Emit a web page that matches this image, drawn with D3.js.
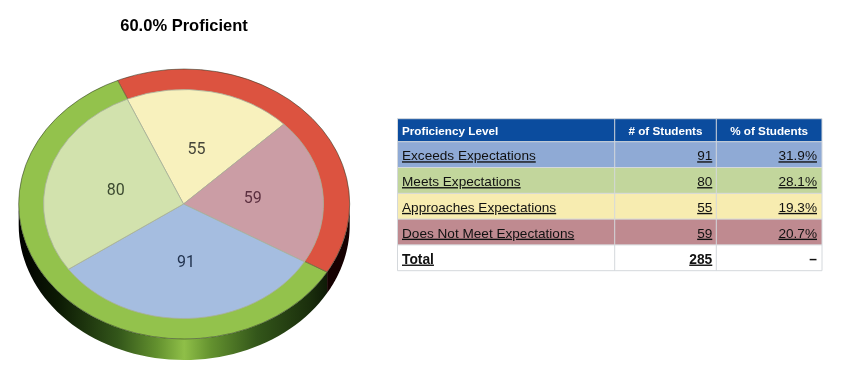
<!DOCTYPE html>
<html>
<head>
<meta charset="utf-8">
<script src="https://cdn.jsdelivr.net/npm/d3@7"></script>
<style>
  html, body { margin: 0; padding: 0; background: #fff; }
  svg { display: block; filter: blur(0.35px); }
</style>
</head>
<body>
<div id="chart"></div>
<script>
'use strict';

// pie slices, clockwise from the 55 slice
const pie_levels = ['Approaches Expectations', 'Does Not Meet Expectations', 'Exceeds Expectations', 'Meets Expectations'];
const pie_values = [55, 59, 91, 80];
const pie_colors = ['#f8f1bd', '#cb9da5', '#a5bde0', '#d2e2ad'];
const pie_label_colors = ['#45453a', '#5c3040', '#22334f', '#3c4a30'];

// outer ring
const ring_values = [114, 171];
const ring_colors = ['#dc5340', '#93c24c'];

// table
const table_columns = ['Proficiency Level', '# of Students', '% of Students'];
const table_levels = ['Exceeds Expectations', 'Meets Expectations', 'Approaches Expectations', 'Does Not Meet Expectations', 'Total'];
const table_counts = ['91', '80', '55', '59', '285'];
const table_percents = ['31.9%', '28.1%', '19.3%', '20.7%', '\u2013'];
const table_fills = ['#8faad5', '#c2d69c', '#f7ecb0', '#bf8a90', '#ffffff'];

const width = 850, height = 387;
const cx = 184.2, cy = 204;
const outer_r = 165.5, inner_r = 140, squash = 135 / 165.5, depth = 21;
const start = -23.7 * Math.PI / 180;

const svg = d3.select('#chart').append('svg')
    .attr('width', width)
    .attr('height', height)
    .style('font-family', '"Liberation Sans", Arial, sans-serif');

svg.append('text')
    .attr('x', 184)
    .attr('y', 31)
    .attr('text-anchor', 'middle')
    .attr('font-size', 16.5)
    .attr('font-weight', 'bold')
    .attr('fill', '#000')
    .text('60.0% Proficient');

const defs = svg.append('defs');

// side wall shading
const side_grad = defs.append('linearGradient')
    .attr('id', 'side_green')
    .attr('gradientUnits', 'userSpaceOnUse')
    .attr('x1', cx - outer_r).attr('x2', cx + outer_r)
    .attr('y1', 0).attr('y2', 0);
[[0, '#000'], [0.12, '#0c1a04'], [0.3, '#33561a'], [0.42, '#64922f'], [0.5, '#8fbf48'],
 [0.58, '#64922f'], [0.72, '#33561a'], [0.88, '#1a2e0c'], [1, '#000']].forEach(s => {
    side_grad.append('stop').attr('offset', s[0]).attr('stop-color', s[1]);
});

// angle on the pie, clockwise from the top -> point on the squashed rim
const rim = (a, drop) => [cx + outer_r * Math.sin(a), cy - outer_r * squash * Math.cos(a) + drop];

const ring_pie = d3.pie().sort(null).startAngle(start).endAngle(start + 2 * Math.PI)(ring_values);

const side_path = (a0, a1) => {
    const angles = d3.range(0, 61).map(i => a0 + (a1 - a0) * i / 60);
    const top = angles.map(a => rim(a, 0));
    const bottom = angles.slice().reverse().map(a => rim(a, depth));
    return d3.line()(top.concat(bottom)) + 'Z';
};

// green wall from the ring boundary to the far left, red wall to the far right
svg.append('path')
    .attr('d', side_path(ring_pie[0].endAngle, 1.5 * Math.PI))
    .attr('fill', 'url(#side_green)');
svg.append('path')
    .attr('d', side_path(0.5 * Math.PI, ring_pie[0].endAngle))
    .attr('fill', '#160101');

const top_g = svg.append('g')
    .attr('transform', `translate(${cx},${cy}) scale(1,${squash})`);

const ring_arc = d3.arc().innerRadius(0).outerRadius(outer_r);
top_g.selectAll('path.ring').data(ring_pie).enter().append('path')
    .attr('class', 'ring')
    .attr('d', ring_arc)
    .attr('fill', (d, i) => ring_colors[i]);

// thin dark rim
top_g.append('circle')
    .attr('r', outer_r)
    .attr('fill', 'none')
    .attr('stroke', '#2a3320')
    .attr('stroke-width', 0.6);

// ring boundary lines
top_g.selectAll('path.tick').data(ring_pie).enter().append('path')
    .attr('class', 'tick')
    .attr('d', d => d3.arc().innerRadius(inner_r).outerRadius(outer_r)({startAngle: d.startAngle, endAngle: d.startAngle}))
    .attr('fill', 'none')
    .attr('stroke', '#6a5a38')
    .attr('stroke-width', 0.6);

const slices = d3.pie().sort(null).startAngle(start).endAngle(start + 2 * Math.PI)(pie_values);
const slice_arc = d3.arc().innerRadius(0).outerRadius(inner_r);

const slice_g = svg.append('g')
    .attr('transform', `translate(${cx - 0.7},${cy}) scale(1,${114.5 / 140})`);

slice_g.selectAll('path.slice').data(slices).enter().append('path')
    .attr('class', 'slice')
    .attr('d', slice_arc)
    .attr('fill', (d, i) => pie_colors[i])
    .attr('stroke', '#a9b09c')
    .attr('stroke-width', 0.9);

svg.selectAll('text.slice_label').data(slices).enter().append('text')
    .attr('class', 'slice_label')
    .attr('x', d => cx + slice_arc.centroid(d)[0] - 1)
    .attr('y', d => cy + slice_arc.centroid(d)[1] * squash + 0.5)
    .attr('dy', '0.36em')
    .attr('text-anchor', 'middle')
    .attr('font-family', 'Roboto, sans-serif')
    .attr('font-size', 16)
    .attr('fill', (d, i) => pie_label_colors[i])
    .text(d => d.data);

// table
const col_x = [397.5, 614.7, 716.3, 822];
const row_y = d3.scaleBand()
    .domain(d3.range(table_levels.length))
    .range([141.7, 270.7]);
const header_top = 118.7;

const table = svg.append('g');

table.append('rect')
    .attr('x', col_x[0]).attr('y', header_top)
    .attr('width', col_x[3] - col_x[0])
    .attr('height', row_y.range()[0] - header_top)
    .attr('fill', '#0b4c9e');

table.selectAll('rect.row').data(table_levels).enter().append('rect')
    .attr('class', 'row')
    .attr('x', col_x[0])
    .attr('y', (d, i) => row_y(i))
    .attr('width', col_x[3] - col_x[0])
    .attr('height', row_y.bandwidth())
    .attr('fill', (d, i) => table_fills[i]);

// grid lines
table.selectAll('line.v').data(col_x).enter().append('line')
    .attr('class', 'v')
    .attr('x1', d => d).attr('x2', d => d)
    .attr('y1', header_top).attr('y2', row_y.range()[1])
    .attr('stroke', '#d4d8dc').attr('stroke-width', 1);
table.selectAll('line.h').data(d3.range(table_levels.length + 1)).enter().append('line')
    .attr('class', 'h')
    .attr('x1', col_x[0]).attr('x2', col_x[3])
    .attr('y1', i => row_y.range()[0] + i * row_y.step())
    .attr('y2', i => row_y.range()[0] + i * row_y.step())
    .attr('stroke', '#d4d8dc').attr('stroke-width', 1);
table.append('line')
    .attr('x1', col_x[0]).attr('x2', col_x[3])
    .attr('y1', header_top).attr('y2', header_top)
    .attr('stroke', '#d4d8dc').attr('stroke-width', 1);

// header text
const header_x = [col_x[0] + 4.5, (col_x[1] + col_x[2]) / 2, (col_x[2] + col_x[3]) / 2];
table.selectAll('text.head').data(table_columns).enter().append('text')
    .attr('class', 'head')
    .attr('x', (d, i) => header_x[i])
    .attr('y', (row_y.range()[0] + header_top) / 2 + 0.7)
    .attr('dy', '0.36em')
    .attr('text-anchor', (d, i) => i === 0 ? 'start' : 'middle')
    .attr('font-size', 11.7)
    .attr('font-weight', 'bold')
    .attr('fill', '#fff')
    .text(d => d);

const cell = (cls, values, x, anchor) => {
    table.selectAll('text.' + cls).data(values).enter().append('text')
        .attr('class', cls)
        .attr('x', x)
        .attr('y', (d, i) => row_y(i) + row_y.bandwidth() / 2 + 0.8)
        .attr('dy', '0.36em')
        .attr('text-anchor', anchor)
        .attr('font-size', (d, i) => i === values.length - 1 ? 13.8 : 13.6)
        .attr('font-weight', (d, i) => i === values.length - 1 ? 'bold' : 'normal')
        .attr('text-decoration', d => d === '\u2013' ? 'none' : 'underline')
        .attr('fill', '#111')
        .text(d => d);
};
cell('level', table_levels, col_x[0] + 4.5, 'start');
cell('count', table_counts, col_x[2] - 4, 'end');
cell('percent', table_percents, col_x[3] - 5, 'end');
</script>
</body>
</html>
